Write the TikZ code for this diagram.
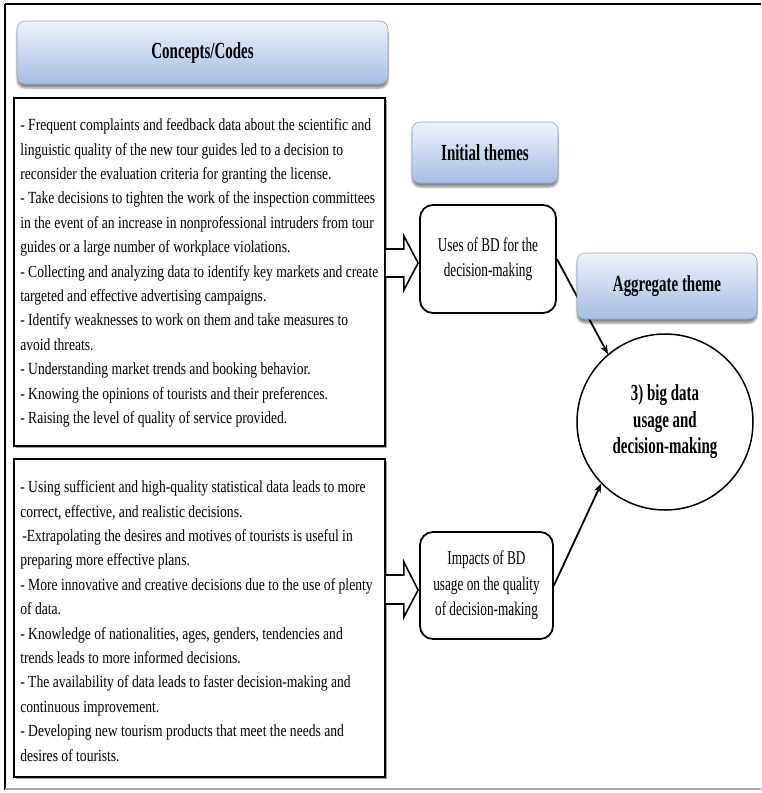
\documentclass[tikz,border=0pt]{standalone}
\usepackage{fontspec}
\setmainfont[FakeStretch=0.80]{Liberation Serif}
\newfontfamily\themefont[FakeStretch=0.68]{Liberation Serif}
\newfontfamily\headfont[FakeStretch=0.65]{Liberation Serif}
\usetikzlibrary{shadows,shadows.blur,arrows.meta,calc}

\definecolor{gtop}{RGB}{238,242,250}
\definecolor{gbot}{RGB}{166,189,228}
\definecolor{hborder}{RGB}{150,165,190}

\tikzset{
 header/.style={draw=hborder, line width=0.6pt, rounded corners=8pt, top color=gtop, bottom color=gbot,
   font=\headfont\fontsize{23}{26}\selectfont\bfseries,
   blur shadow={shadow xshift=0pt, shadow yshift=-4pt, shadow blur steps=6, shadow opacity=45}},
 codebox/.style={draw, line width=1.8pt, fill=white,
   drop shadow={shadow xshift=1.5pt, shadow yshift=-1.5pt, fill=gray!70, opacity=1}},
 codetext/.style={font=\fontsize{17}{24.4}\selectfont, align=left, inner sep=0pt, anchor=west},
 themebox/.style={draw, line width=1.8pt, rounded corners=13pt, fill=white, align=center,
   font=\themefont\fontsize{19.5}{25.5}\selectfont},
 aggcircle/.style={draw, circle, line width=1.5pt, minimum size=176pt, inner sep=0pt, align=center,
   font=\headfont\fontsize{23}{26.5}\selectfont\bfseries},
 hollow/.style={draw, line width=1.6pt, fill=white, line join=miter},
 link/.style={line width=1.8pt, -{Stealth[length=9pt,width=7pt]}},
 framebar/.style={line width=2.5pt},
}

\begin{document}
\begin{tikzpicture}[x=1pt,y=-1pt]
\useasboundingbox (0,0) rectangle (761,793);

% outer frame
\draw[framebar] (5,4) -- (761,4);
\draw[line width=1.5pt] (5,4) -- (5,790);
\draw[line width=2pt, gray!70] (5,789) -- (761,789);

% headers
\node[header, minimum width=371pt, minimum height=63pt] (hc) at (202.5,52.5) {Concepts/Codes};
\node[header, minimum width=146pt, minimum height=61pt] (hi) at (485,152.5) {Initial themes};

% code boxes
\node[codebox, minimum width=371pt, minimum height=348pt] (t1) at (199.5,272) {};
\node[codetext] (t1txt) at ($(t1.west)+(7,1)$) {%
- Frequent complaints and feedback data about the scientific and\\
linguistic quality of the new tour guides led to a decision to\\
reconsider the evaluation criteria for granting the license.\\
- Take decisions to tighten the work of the inspection committees\\
in the event of an increase in nonprofessional intruders from tour\\
guides or a large number of workplace violations.\\
- Collecting and analyzing data to identify key markets and create\\
targeted and effective advertising campaigns.\\
- Identify weaknesses to work on them and take measures to\\
avoid threats.\\
- Understanding market trends and booking behavior.\\
- Knowing the opinions of tourists and their preferences.\\
- Raising the level of quality of service provided.};

\node[codebox, minimum width=371pt, minimum height=318pt] (t2) at (199.5,618) {};
\node[codetext] (t2txt) at ($(t2.west)+(7,3)$) {%
- Using sufficient and high-quality statistical data leads to more\\
correct, effective, and realistic decisions.\\
\hspace*{2pt}-Extrapolating the desires and motives of tourists is useful in\\
preparing more effective plans.\\
- More innovative and creative decisions due to the use of plenty\\
of data.\\
- Knowledge of nationalities, ages, genders, tendencies and\\
trends leads to more informed decisions.\\
- The availability of data leads to faster decision-making and\\
continuous improvement.\\
- Developing new tourism products that meet the needs and\\
desires of tourists.};

% theme boxes
\node[themebox, minimum width=136pt, minimum height=108pt] (u1) at (488,259)
  {Uses of BD for the\\decision-making};
\node[themebox, minimum width=133pt, minimum height=107pt] (i1) at (486.5,585.5)
  {Impacts of BD\\usage on the quality\\of decision-making};

% aggregate circle
\node[aggcircle] (c) at (665,422) {3) big data\\usage and\\decision-making};

% hollow arrows
\draw[hollow] ($(t1.east |- u1.west)+(0,-10)$) -- ++(18,0) -- ++(0,-13)
  -- ($(u1.west)+(-1,4)$) -- ($(t1.east |- u1.west)+(18,31)$) -- ++(0,-13)
  -- ($(t1.east |- u1.west)+(0,18)$);
\draw[hollow] ($(t2.east |- i1.west)+(0,-10.5)$) -- ++(18,0) -- ++(0,-13)
  -- ($(i1.west)+(-1,4.5)$) -- ($(t2.east |- i1.west)+(18,31.5)$) -- ++(0,-13)
  -- ($(t2.east |- i1.west)+(0,18.5)$);

% links
\draw[link] (u1.east) -- (c.130);
\draw[link] (i1.east) -- (c.224);

% aggregate header (on top of the first link)
\node[header, minimum width=180pt, minimum height=66pt] (ha) at (667,286) {Aggregate theme};
\end{tikzpicture}
\end{document}
